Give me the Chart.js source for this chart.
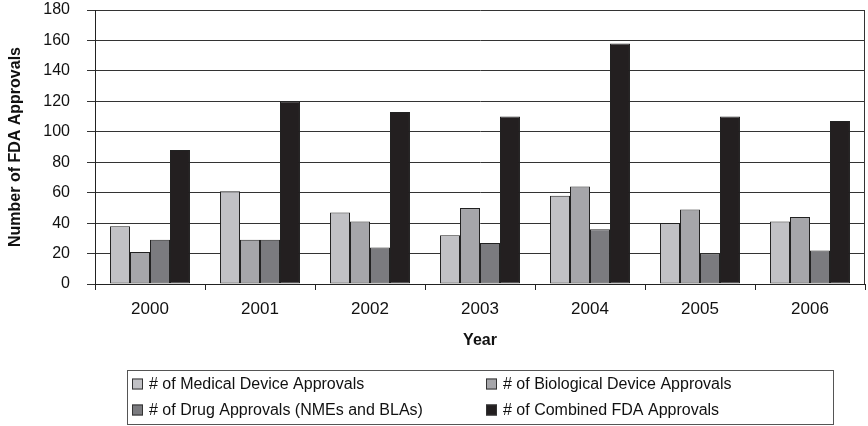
<!DOCTYPE html>
<html>
<head>
<meta charset="utf-8">
<script src="https://cdn.jsdelivr.net/npm/chart.js@4/dist/chart.umd.min.js"></script>
<style>
  html, body { margin: 0; padding: 0; background: #ffffff; }
  #wrap { width: 868px; height: 426px; position: relative; }
</style>
</head>
<body>
<div id="wrap"><canvas id="c" width="868" height="426"></canvas></div>
<script>
const years = ['2000', '2001', '2002', '2003', '2004', '2005', '2006'];
const medicalDevice = [38, 61, 47, 32, 58, 40, 41];
const biologicalDevice = [21, 29, 41, 50, 64, 49, 44];
const drugApprovals = [29, 29, 24, 27, 36, 20, 22];
const combinedApprovals = [88, 120, 113, 110, 158, 110, 107];
const seriesNames = [
  '# of Medical Device Approvals',
  '# of Biological Device Approvals',
  '# of Drug Approvals (NMEs and BLAs)',
  '# of Combined FDA Approvals'
];
const seriesColors = ['#c1c1c5', '#a6a6aa', '#7b7b7f', '#231f20'];
const yTicks = [0, 20, 40, 60, 80, 100, 120, 140, 160, 180];

const FONT = "'Liberation Sans', Arial, sans-serif";

const frameAndLegend = {
  id: 'frameAndLegend',
  afterDraw(chart) {
    const ctx = chart.ctx;
    const a = chart.chartArea;
    ctx.save();
    ctx.strokeStyle = '#333333';
    ctx.lineWidth = 1;
    ctx.beginPath();
    ctx.moveTo(Math.round(a.right) - 0.5, a.top);
    ctx.lineTo(Math.round(a.right) - 0.5, a.bottom);
    ctx.stroke();

    // legend box
    const bx = 127.5, by = 370.5, bw = 706, bh = 54;
    ctx.strokeStyle = '#555555';
    ctx.strokeRect(bx, by, bw, bh);
    const cols = [132, 486];
    const rows = [384, 410];
    ctx.font = '16px ' + FONT;
    ctx.textBaseline = 'middle';
    ctx.textAlign = 'left';
    chart.data.datasets.forEach((ds, i) => {
      const cx = cols[i % 2];
      const cy = rows[Math.floor(i / 2)];
      ctx.fillStyle = ds.backgroundColor;
      ctx.fillRect(cx, cy - 5.5, 11, 11);
      ctx.strokeStyle = '#333333';
      ctx.strokeRect(cx + 0.5, cy - 5, 10, 10);
      ctx.fillStyle = '#111111';
      ctx.fillText(ds.label, cx + 17, cy + 1);
    });
    ctx.restore();
  }
};

new Chart(document.getElementById('c'), {
  type: 'bar',
  data: {
    labels: years,
    datasets: [
      { label: seriesNames[0], data: medicalDevice, backgroundColor: seriesColors[0] },
      { label: seriesNames[1], data: biologicalDevice, backgroundColor: seriesColors[1] },
      { label: seriesNames[2], data: drugApprovals, backgroundColor: seriesColors[2] },
      { label: seriesNames[3], data: combinedApprovals, backgroundColor: seriesColors[3] }
    ].map(d => Object.assign(d, { borderColor: '#222222', borderWidth: 1, borderSkipped: false, categoryPercentage: 0.727, barPercentage: 1 }))
  },
  options: {
    responsive: false,
    animation: false,
    devicePixelRatio: 1,
    layout: { padding: { left: 0, right: 3, top: 0, bottom: 0 } },
    plugins: { legend: { display: false }, tooltip: { enabled: false } },
    scales: {
      x: {
        offset: true,
        grid: { offset: true, drawOnChartArea: false, tickLength: 6, color: '#222222' },
        border: { color: '#222222' },
        ticks: { font: { family: FONT, size: 17 }, color: '#111111', padding: 9 },
        title: { display: true, text: 'Year', font: { family: FONT, size: 16, weight: 'bold' }, color: '#111111', padding: { top: 0, bottom: 76 } },
        afterFit(scale) { scale.height = 142; }
      },
      y: {
        min: 0, max: 180,
        afterBuildTicks(scale) { scale.ticks = yTicks.map(v => ({ value: v })); },
        grid: { color: '#333333', tickLength: 8 },
        border: { color: '#222222' },
        ticks: { font: { family: FONT, size: 16 }, color: '#111111', padding: 17 },
        title: { display: true, text: 'Number of FDA Approvals', font: { family: FONT, size: 16, weight: 'bold' }, color: '#111111', padding: { top: 6, bottom: 0 } },
        afterFit(scale) { scale.width = 95; scale.paddingTop = 10; }
      }
    }
  },
  plugins: [frameAndLegend]
});
</script>
</body>
</html>
